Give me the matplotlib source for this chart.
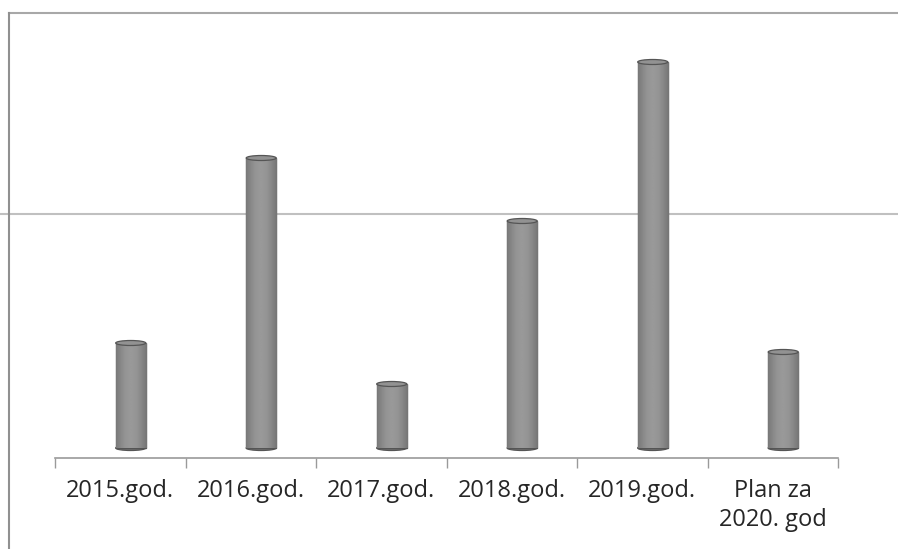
import matplotlib as mpl
from matplotlib import pyplot as plt
from matplotlib.patches import Ellipse
from matplotlib.lines import Line2D
import numpy as np

plt.rcParams['font.family'] = ['Open Sans', 'DejaVu Sans']

categories = ['2015.god.', '2016.god.', '2017.god.', '2018.god.', '2019.god.', 'Plan za\n2020. god']
values = [105, 290, 64, 227, 386, 96]

W, H = 898, 549
fig = plt.figure(figsize=(W / 100, H / 100), dpi=100)
ax = fig.add_axes([55 / W, (H - 458) / H, (838 - 55) / W, (458 - 13) / H])
ax.set_facecolor('none')

x = np.arange(len(categories))
bw = 0.23
shift = 0.08  # 3D depth offset of the cylinders
bars = ax.bar(x + shift, values, width=bw, bottom=0, color='#8a8a8a', edgecolor='#555555', linewidth=1.0, zorder=2)

# cylinder shading
grad = np.linspace(0, 1, 64)
shade = 0.44 + 0.16 * np.sin(grad * np.pi * 0.9 + 0.2)
img = np.tile(shade, (2, 1))
for b in bars:
    x0, w, h = b.get_x(), b.get_width(), b.get_height()
    im = ax.imshow(img, cmap='gray', vmin=0, vmax=1, extent=[x0, x0 + w, 0, h],
                   aspect='auto', zorder=2.5, interpolation='bilinear')
    im.set_clip_path(b)
    top = Ellipse((x0 + w / 2, h), w, 5, facecolor='#929292', edgecolor='#555555', lw=0.9, zorder=3)
    ax.add_patch(top)
    bot = Ellipse((x0 + w / 2, 0), w, 5, facecolor='#707070', edgecolor='#555555', lw=0.9, zorder=1.9)
    ax.add_patch(bot)

ax.set_xlim(-0.5, len(categories) - 0.5)
ax.set_ylim(-10, 435)

for s in ['top', 'right', 'left']:
    ax.spines[s].set_visible(False)
ax.spines['bottom'].set_color('#9a9a9a')
ax.spines['bottom'].set_linewidth(1.2)
ax.set_yticks([])

ax.set_xticks(np.arange(-0.5, len(categories), 1.0))
ax.set_xticklabels([])
ax.tick_params(axis='x', which='major', direction='out', length=7, color='#9a9a9a', width=1)
ax.set_xticks(x, minor=True)
ax.set_xticklabels(categories, minor=True, fontsize=17, color='#262626', linespacing=1.3)
ax.tick_params(axis='x', which='minor', length=0, pad=15)

# page frame and horizontal rule
fig.add_artist(Line2D([9 / W, 1], [1 - 13 / H, 1 - 13 / H], color='#a8a8a8', lw=1.5))
fig.add_artist(Line2D([9 / W, 9 / W], [0, 1 - 13 / H], color='#909090', lw=1.5))
fig.add_artist(Line2D([0, 1], [1 - 214 / H, 1 - 214 / H], color='#c0c0c0', lw=1.5, zorder=0))

fig.savefig('out.png', dpi=100)
